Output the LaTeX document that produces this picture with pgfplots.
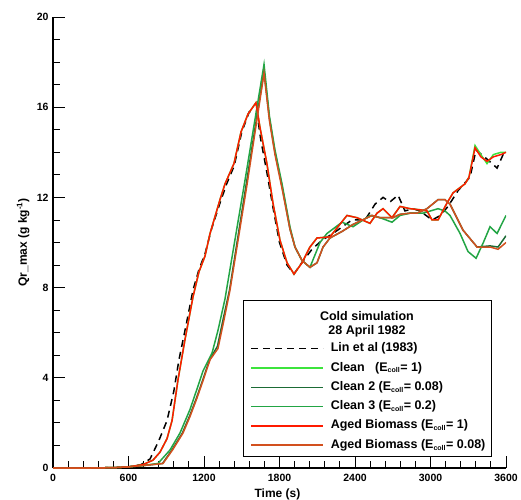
\documentclass[border=0pt]{standalone}
\usepackage{pgfplots}
\pgfplotsset{compat=1.18}
\usepackage{fontspec}
\setmainfont{Liberation Sans}
\definecolor{cleanA}{HTML}{3CE43C}
\definecolor{cleanB}{HTML}{1B6B35}
\definecolor{cleanC}{HTML}{22A544}
\definecolor{agedA}{HTML}{FF1A00}
\definecolor{agedB}{HTML}{D2501E}
\newcommand{\Ec}{E\textsubscript{\fontsize{7}{7}\selectfont coll}}
\begin{document}
\begin{tikzpicture}[x=1pt,y=1pt]
\path[use as bounding box] (0,0) rectangle (521,499);
\begin{axis}[
  at={(53pt,31pt)}, anchor=south west,
  scale only axis, width=453pt, height=451pt,
  xmin=0, xmax=3600, ymin=0, ymax=20,
  axis x line*=bottom, axis y line*=left,
  xtick={0,600,...,3600}, minor x tick num=4,
  ytick={0,4,...,20}, minor y tick num=3,
  xtick pos=left, ytick pos=left,
  tick align=inside,
  major tick length=12pt, minor tick length=7pt,
  every tick/.style={black, line width=0.9pt},
  axis line style={line width=1.2pt},
  /pgf/number format/assume math mode=true,
  /pgf/number format/1000 sep={},
  scaled x ticks=false,
  ticklabel style={font=\fontsize{10.5}{12}\selectfont\bfseries},
  xticklabel style={yshift=-3pt},
  yticklabel style={xshift=-1pt},
  every axis x label/.style={at={(axis description cs:0.4956,-0.058)}, anchor=center, font=\fontsize{12}{14}\selectfont\bfseries},
  every axis y label/.style={at={(axis description cs:-0.066,0.5)}, rotate=90, anchor=center, font=\fontsize{12}{14}\selectfont\bfseries},
  xlabel={Time (s)},
  ylabel={Qr\_max (g kg\textsuperscript{-1})},
  legend image code/.code={\draw[#1] (0pt,0pt) -- (72pt,0pt);},
  legend cell align=left,
  legend style={draw=none, fill=none, at={(axis cs:1566,5.565)}, anchor=north west,
    inner sep=0pt, row sep=7.3pt, column sep=7pt,
    font=\fontsize{12.5}{14}\selectfont\bfseries,
    nodes={inner sep=0pt, text height=9pt, text depth=3pt}},
]
% Lin et al (1983)
\addplot[black, line width=1.5pt, dash pattern=on 7pt off 5pt] coordinates {
(0,0) (300,0) (500,0.02) (600,0.05) (700,0.15) (771,0.4) (840,1.2) (906,2.1) (960,3.4) (1001,4.8) (1060,6.4) (1113,7.9) (1160,8.8) (1208,9.5) (1260,10.6) (1330,11.8) (1380,12.6) (1440,13.4) (1500,14.9) (1560,15.8) (1620,15.8) (1650,14.6) (1700,13.1) (1750,11.5) (1800,10.0) (1860,9.0) (1915,8.6) (1963,9.0) (2058,9.7) (2138,10.1) (2225,10.4) (2300,10.7) (2376,11.0) (2480,11.0) (2559,11.7) (2623,12.0) (2678,11.8) (2742,12.1) (2797,11.4) (2860,11.5) (2917,11.4) (3012,11.0) (3080,11.2) (3139,11.6) (3219,12.3) (3314,12.9) (3362,14.1) (3449,13.7) (3529,13.3) (3577,13.9) (3600,13.9)};
\addlegendentry{Lin et al (1983)}
% Clean (Ecoll=1)
\addplot[cleanA, line width=1.5pt] coordinates {
(0,0) (300,0) (500,0.02) (600,0.05) (715,0.15) (795,0.35) (850,0.7) (906,1.3) (946,2.1) (993,3.9) (1049,5.7) (1113,7.6) (1160,8.7) (1208,9.4) (1248,10.4) (1327,11.9) (1367,12.6) (1438,13.5) (1494,14.9) (1550,15.7) (1613,16.2) (1645,15.1) (1700,13.5) (1748,11.75) (1804,10.1) (1860,9.1) (1915,8.6) (1979,9.1) (2042,9.8) (2098,10.2) (2201,10.25) (2336,11.2) (2416,11.1) (2519,10.85) (2575,11.3) (2623,11.5) (2694,11.1) (2758,11.6) (2837,11.5) (2917,11.45) (2972,11.4) (3012,11.0) (3060,11.0) (3131,11.75) (3179,12.2) (3274,12.6) (3306,12.9) (3354,14.3) (3400,13.9) (3449,13.5) (3500,13.9) (3560,14.0) (3600,14.0)};
\addlegendentry{Clean\ \ \ (\Ec= 1)}
% Clean 2 (Ecoll=0.08)
\addplot[cleanB, line width=1.5pt] coordinates {
(0,0) (300,0) (500,0.02) (600,0.05) (700,0.1) (870,0.2) (945,0.8) (1028,1.55) (1085,2.3) (1140,3.1) (1196,4.0) (1244,4.8) (1307,5.4) (1356,6.7) (1403,7.9) (1536,12.6) (1677,17.6) (1720,15.5) (1764,14.0) (1820,12.5) (1883,10.6) (1923,9.8) (1979,9.2) (2042,8.9) (2098,9.1) (2146,9.8) (2201,10.2) (2300,10.5) (2384,10.8) (2535,11.2) (2599,11.1) (2702,11.1) (2758,11.25) (2837,11.3) (2893,11.3) (2972,11.5) (3060,11.9) (3115,11.9) (3155,11.7) (3258,10.55) (3370,9.8) (3473,9.85) (3537,9.8) (3600,10.3)};
\addlegendentry{Clean 2 (\Ec= 0.08)}
% Clean 3 (Ecoll=0.2)
\addplot[cleanC, line width=1.5pt] coordinates {
(0,0) (300,0) (500,0.02) (600,0.05) (700,0.1) (834,0.2) (930,0.8) (1009,1.55) (1089,2.6) (1144,3.5) (1192,4.3) (1264,5.1) (1311,6.1) (1367,7.5) (1391,8.3) (1530,12.9) (1677,17.9) (1720,15.6) (1764,14.1) (1820,12.6) (1883,10.7) (1923,9.8) (1979,9.2) (2042,8.9) (2122,10.0) (2177,10.4) (2297,10.9) (2384,10.7) (2519,11.2) (2599,11.1) (2694,10.9) (2758,11.2) (2837,11.3) (2940,11.3) (3060,11.5) (3115,11.4) (3155,11.2) (3235,10.4) (3298,9.6) (3362,9.3) (3420,10.0) (3473,10.7) (3529,10.4) (3600,11.2)};
\addlegendentry{Clean 3 (\Ec= 0.2)}
% Aged Biomass (Ecoll=1)
\addplot[agedA, line width=1.5pt] coordinates {
(0,0) (300,0) (500,0.02) (600,0.05) (715,0.15) (795,0.35) (850,0.7) (906,1.3) (946,2.1) (993,3.9) (1049,5.7) (1113,7.6) (1160,8.7) (1208,9.4) (1248,10.4) (1327,11.9) (1367,12.6) (1438,13.5) (1494,14.9) (1550,15.7) (1613,16.2) (1645,15.1) (1700,13.5) (1748,11.75) (1804,10.1) (1860,9.1) (1915,8.6) (1979,9.1) (2042,9.8) (2098,10.2) (2201,10.25) (2336,11.2) (2416,11.1) (2519,10.85) (2575,11.3) (2623,11.5) (2694,11.1) (2758,11.6) (2837,11.5) (2917,11.45) (2972,11.4) (3012,11.0) (3060,11.0) (3131,11.75) (3179,12.2) (3274,12.6) (3306,12.9) (3354,14.2) (3400,13.8) (3449,13.6) (3500,13.8) (3560,13.9) (3600,14.0)};
\addlegendentry{Aged Biomass (\Ec= 1)}
% Aged Biomass (Ecoll=0.08)
\addplot[agedB, line width=1.5pt] coordinates {
(0,0) (300,0) (500,0.02) (600,0.05) (700,0.1) (874,0.2) (950,0.8) (1033,1.55) (1090,2.3) (1144,3.1) (1200,4.0) (1248,4.8) (1311,5.3) (1360,6.6) (1407,7.9) (1540,12.5) (1677,17.5) (1720,15.4) (1764,13.9) (1820,12.4) (1883,10.6) (1923,9.8) (1979,9.2) (2042,8.9) (2098,9.1) (2146,9.8) (2201,10.2) (2300,10.5) (2384,10.8) (2535,11.2) (2599,11.1) (2702,11.1) (2758,11.25) (2837,11.3) (2893,11.3) (2972,11.5) (3060,11.9) (3115,11.9) (3155,11.7) (3258,10.55) (3370,9.8) (3473,9.8) (3537,9.7) (3600,10.0)};
\addlegendentry{Aged Biomass (\Ec= 0.08)}
% legend frame and title
\draw[black, line width=1pt, fill=white] (axis cs:1510,7.45) rectangle (axis cs:3481,0.49);
\node[anchor=base, font=\fontsize{12.5}{14}\selectfont\bfseries, inner sep=0pt] at (axis cs:2495,6.52) {Cold simulation};
\node[anchor=base, font=\fontsize{12.5}{14}\selectfont\bfseries, inner sep=0pt] at (axis cs:2495,5.94) {28 April 1982};
\end{axis}
\end{tikzpicture}
\end{document}
